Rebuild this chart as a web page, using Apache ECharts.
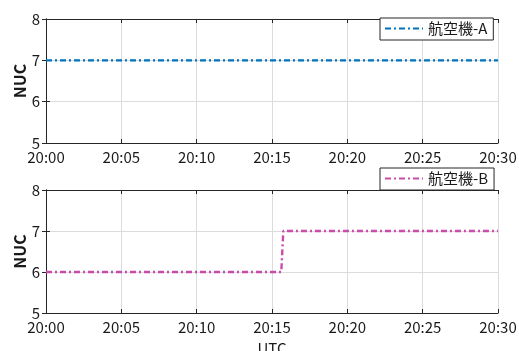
<!DOCTYPE html>
<html><head><meta charset="utf-8">
<script src="https://cdn.jsdelivr.net/npm/echarts@6/dist/echarts.min.js"></script>
<style>html,body{margin:0;padding:0;background:#fff}#c{width:519px;height:351px}</style>
</head><body><div id="c"></div>
<script>
const xTickLabels = ['20:00','20:05','20:10','20:15','20:20','20:25','20:30'];
const yTicks = [5,6,7,8];
const seriesNames = ['航空機-A','航空機-B'];
const timesA = ['20:00:00','20:30:00'];
const nucA = [7,7];
const timesB = ['20:00:00','20:15:37','20:15:45','20:30:00'];
const nucB = [6,6,7,7];

function toMin(t){const p=t.split(':').map(Number);return (p[0]-20)*60+p[1]+(p[2]||0)/60;}
function lbl(v){return xTickLabels[Math.round(v/5)];}
const font='"Noto Sans CJK JP", "Noto Sans", sans-serif';
const dark='#262626';
const txt='#1a1a1a';
const grids=[{left:46,top:19,width:452,height:124,outerBoundsMode:'none',containLabel:false},
             {left:46,top:190,width:452,height:123,outerBoundsMode:'none',containLabel:false}];
const xAxes=[],yAxes=[];
grids.forEach((g,i)=>{
  xAxes.push({type:'value',gridIndex:i,min:0,max:30,interval:5,position:'bottom',
    axisLine:{lineStyle:{color:dark,width:1}},axisTick:{inside:true,length:4,lineStyle:{color:dark}},
    axisLabel:{formatter:lbl,color:txt,fontSize:15,fontFamily:font,margin:7},
    splitLine:{show:true,lineStyle:{color:'#dcdcdc',width:1}},
    name:i===1?'UTC':'',nameLocation:'middle',nameGap:28,nameMoveOverlap:false,nameTextStyle:{color:txt,fontSize:15,fontFamily:font,verticalAlign:'top'}});
  xAxes.push({type:'value',gridIndex:i,min:0,max:30,interval:5,position:'top',
    axisLine:{lineStyle:{color:dark,width:1}},axisTick:{inside:true,length:4,lineStyle:{color:dark}},
    axisLabel:{show:false},splitLine:{show:false}});
  yAxes.push({type:'value',gridIndex:i,min:5,max:8,interval:1,position:'left',
    axisLine:{show:true,lineStyle:{color:dark,width:1}},axisTick:{show:true,inside:true,length:4,lineStyle:{color:dark}},
    axisLabel:{formatter:v=>String(yTicks[v-5]),color:txt,fontSize:15,fontFamily:font,margin:6},
    splitLine:{show:true,lineStyle:{color:'#dcdcdc',width:1}},
    name:'NUC',nameLocation:'middle',nameGap:18,nameMoveOverlap:false,nameRotate:90,nameTextStyle:{color:txt,fontSize:16,fontFamily:font,fontWeight:'bold'}});
  yAxes.push({type:'value',gridIndex:i,min:5,max:8,interval:1,position:'right',
    axisLine:{show:true,lineStyle:{color:dark,width:1}},axisTick:{show:true,inside:true,length:4,lineStyle:{color:dark}},
    axisLabel:{show:false},splitLine:{show:false}});
});
const colors=['#0072BD','#C94BAA'];
const dash=[6,3,2,3];
function leg(name,top){
  return {data:[name],left:380,top:top,itemWidth:38,itemHeight:12,padding:[3,6,4,4],
     backgroundColor:'#fff',borderColor:dark,borderWidth:1,itemStyle:{opacity:0},
     textStyle:{fontSize:15,color:txt,fontFamily:font}};
}
const option={
  animation:false,
  grid:grids,
  xAxis:xAxes,yAxis:yAxes,
  legend:[leg(seriesNames[0],18),leg(seriesNames[1],168)],
  series:[
    {name:seriesNames[0],type:'line',xAxisIndex:0,yAxisIndex:0,symbol:'none',
     data:timesA.map((t,k)=>[toMin(t),nucA[k]]),lineStyle:{color:colors[0],width:2.4,type:dash},itemStyle:{color:colors[0]}},
    {name:seriesNames[1],type:'line',xAxisIndex:2,yAxisIndex:2,symbol:'none',
     data:timesB.map((t,k)=>[toMin(t),nucB[k]]),lineStyle:{color:colors[1],width:2.4,type:dash},itemStyle:{color:colors[1]}}
  ]
};
const ch=echarts.init(document.getElementById('c'),null,{renderer:'canvas'});
ch.setOption(option);
</script></body></html>
